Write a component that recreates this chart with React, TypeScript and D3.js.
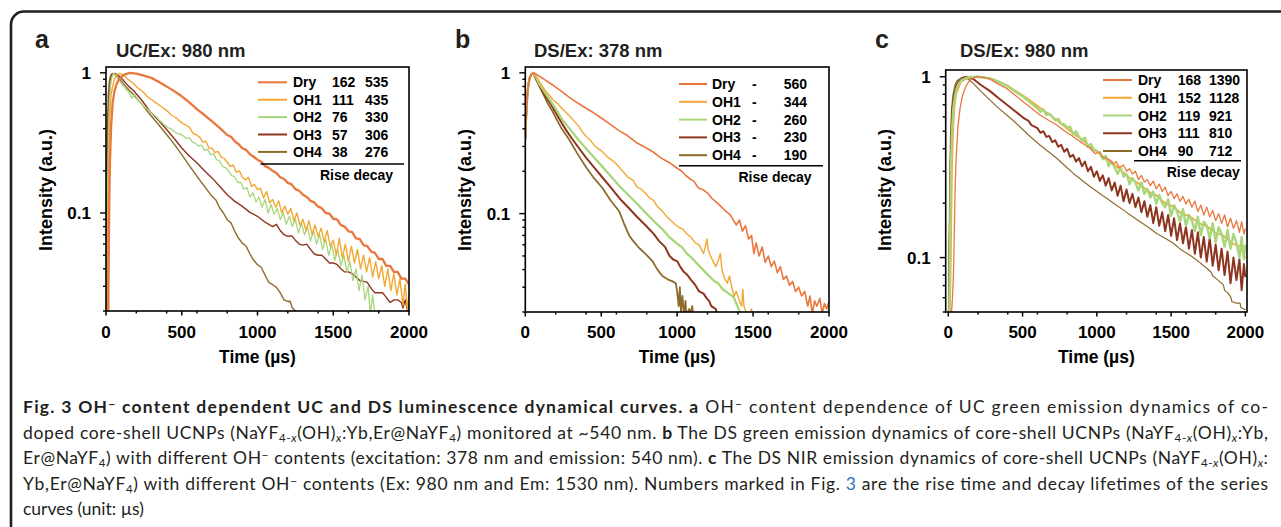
import * as d3 from "d3";

type Pt = [number, number];

const names = ["Dry", "OH1", "OH2", "OH3", "OH4"];
const palette = ["#E9773D", "#F4A733", "#A7D67B", "#8E3520", "#8D6B2B"];

const aRise = ["162", "111", "76", "57", "38"];
const aDecay = ["535", "435", "330", "306", "276"];
const bRise = ["-", "-", "-", "-", "-"];
const bDecay = ["560", "344", "260", "230", "190"];
const cRise = ["168", "152", "119", "111", "90"];
const cDecay = ["1390", "1128", "921", "810", "712"];

// panel a: UC, Ex 980 nm  [time us, intensity]
const aDry: Pt[] = [[15,0.019],[18,0.05],[22,0.13],[26,0.23],[34,0.42],[44,0.61],[56,0.74],[70,0.83],[85,0.9],[103,0.94],[125,0.975],[158,1],[200,0.985],[250,0.955],[300,0.92],[350,0.86],[400,0.8],[450,0.74],[500,0.68],[550,0.615],[600,0.55],[650,0.5],[700,0.45],[750,0.405],[800,0.36],[825,0.35],[850,0.325],[875,0.31],[900,0.29],[925,0.282],[950,0.262],[975,0.252],[1000,0.24],[1025,0.232],[1050,0.216],[1075,0.21],[1100,0.2],[1125,0.193],[1150,0.18],[1175,0.175],[1200,0.164],[1225,0.16],[1250,0.148],[1275,0.144],[1300,0.135],[1325,0.13],[1350,0.122],[1375,0.119],[1400,0.111],[1425,0.108],[1450,0.1],[1475,0.099],[1500,0.091],[1525,0.09],[1550,0.082],[1575,0.08],[1600,0.074],[1625,0.073],[1650,0.066],[1675,0.065],[1700,0.059],[1725,0.058],[1750,0.053],[1775,0.052],[1800,0.047],[1825,0.047],[1850,0.042],[1875,0.042],[1900,0.038],[1925,0.038],[1950,0.034],[1975,0.034],[2000,0.031]];
const aOH1: Pt[] = [[8,0.019],[12,0.06],[15,0.13],[20,0.3],[26,0.52],[34,0.7],[44,0.8],[55,0.9],[66,0.946],[80,0.98],[90,0.99],[114,0.967],[145,0.9],[180,0.84],[210,0.78],[246,0.73],[270,0.68],[299,0.645],[330,0.61],[360,0.58],[400,0.54],[430,0.5],[460,0.48],[500,0.44],[525,0.425],[550,0.41],[575,0.37],[600,0.36],[620,0.345],[640,0.32],[660,0.325],[680,0.29],[700,0.29],[720,0.27],[740,0.275],[760,0.25],[780,0.245],[800,0.23],[820,0.215],[840,0.22],[860,0.195],[880,0.2],[900,0.18],[920,0.172],[940,0.18],[960,0.155],[980,0.16],[1000,0.147],[1020,0.15],[1040,0.128],[1060,0.142],[1080,0.118],[1100,0.125],[1120,0.11],[1140,0.122],[1160,0.1],[1180,0.112],[1200,0.098],[1220,0.108],[1240,0.088],[1260,0.1],[1280,0.082],[1300,0.09],[1320,0.075],[1340,0.088],[1360,0.07],[1380,0.082],[1400,0.068],[1420,0.078],[1440,0.062],[1460,0.075],[1480,0.058],[1500,0.064],[1520,0.05],[1540,0.066],[1560,0.048],[1580,0.06],[1600,0.045],[1620,0.058],[1640,0.044],[1660,0.055],[1680,0.04],[1700,0.05],[1720,0.038],[1740,0.048],[1760,0.035],[1780,0.045],[1800,0.034],[1820,0.042],[1840,0.03],[1860,0.04],[1880,0.028],[1900,0.037],[1920,0.026],[1940,0.034],[1960,0.022],[1975,0.031],[1990,0.02],[2000,0.027]];
const aOH2: Pt[] = [[4,0.019],[8,0.07],[11,0.17],[16,0.38],[22,0.61],[28,0.78],[35,0.9],[48,0.99],[60,0.97],[92,0.87],[125,0.78],[150,0.73],[170,0.66],[190,0.7],[210,0.64],[230,0.61],[250,0.57],[270,0.555],[290,0.53],[310,0.5],[330,0.49],[350,0.46],[370,0.44],[390,0.42],[410,0.405],[430,0.4],[450,0.38],[470,0.37],[490,0.365],[510,0.355],[530,0.34],[550,0.345],[570,0.32],[590,0.315],[610,0.3],[630,0.305],[650,0.28],[670,0.285],[690,0.26],[710,0.265],[730,0.24],[750,0.235],[770,0.215],[790,0.21],[810,0.2],[830,0.185],[850,0.18],[870,0.165],[890,0.165],[910,0.148],[930,0.152],[950,0.13],[970,0.14],[990,0.12],[1010,0.13],[1030,0.11],[1050,0.125],[1070,0.1],[1090,0.115],[1110,0.098],[1130,0.108],[1150,0.09],[1170,0.1],[1190,0.083],[1210,0.095],[1230,0.08],[1250,0.09],[1270,0.072],[1290,0.085],[1310,0.07],[1330,0.08],[1350,0.063],[1370,0.075],[1390,0.06],[1410,0.07],[1430,0.055],[1450,0.065],[1470,0.05],[1490,0.06],[1510,0.046],[1530,0.055],[1550,0.042],[1570,0.05],[1590,0.038],[1610,0.045],[1630,0.033],[1650,0.04],[1670,0.028],[1690,0.036],[1710,0.024],[1730,0.03],[1745,0.019],[1760,0.026],[1775,0.019]];
const aOH3: Pt[] = [[2,0.019],[5,0.06],[9,0.23],[14,0.45],[20,0.68],[27,0.83],[33,0.92],[42,0.975],[53,0.99],[70,0.975],[92,0.94],[120,0.87],[150,0.8],[180,0.75],[235,0.64],[290,0.53],[345,0.46],[400,0.394],[450,0.34],[500,0.291],[550,0.255],[600,0.228],[650,0.2],[700,0.178],[750,0.155],[800,0.135],[850,0.121],[900,0.1115],[950,0.101],[1000,0.0947],[1050,0.086],[1100,0.08],[1125,0.083],[1150,0.075],[1175,0.07],[1200,0.068],[1225,0.069],[1250,0.064],[1275,0.06],[1300,0.059],[1325,0.06],[1350,0.055],[1375,0.051],[1400,0.05],[1425,0.05],[1450,0.047],[1475,0.044],[1500,0.044],[1525,0.043],[1550,0.04],[1575,0.038],[1600,0.038],[1625,0.037],[1650,0.035],[1675,0.033],[1700,0.0325],[1725,0.032],[1750,0.029],[1775,0.027],[1800,0.027],[1825,0.027],[1850,0.025],[1875,0.023],[1900,0.024],[1925,0.024],[1950,0.023],[1960,0.021],[1975,0.024],[1990,0.02],[2000,0.0228]];
const aOH4: Pt[] = [[0,0.019],[3,0.06],[7,0.23],[11,0.45],[15,0.68],[20,0.82],[26,0.92],[35,0.975],[44,0.99],[60,0.97],[92,0.896],[135,0.79],[180,0.7],[235,0.6],[290,0.504],[345,0.43],[400,0.363],[450,0.31],[500,0.261],[550,0.218],[600,0.183],[650,0.155],[700,0.1315],[725,0.124],[750,0.109],[775,0.1],[800,0.0896],[825,0.085],[850,0.074],[875,0.066],[900,0.061],[925,0.058],[950,0.051],[975,0.046],[1000,0.0428],[1025,0.041],[1050,0.036],[1075,0.032],[1100,0.0308],[1125,0.0295],[1150,0.027],[1175,0.024],[1200,0.0234],[1215,0.0235],[1230,0.021],[1258,0.0197],[1275,0.019]];

// panel b: DS, Ex 378 nm
const bDry: Pt[] = [[0,0.34],[6,0.5],[13,0.68],[20,0.82],[29,0.92],[40,0.975],[57,1],[90,0.95],[130,0.89],[180,0.82],[230,0.75],[290,0.67],[340,0.615],[400,0.56],[450,0.52],[510,0.47],[560,0.43],[620,0.387],[670,0.36],[730,0.32],[780,0.3],[840,0.275],[890,0.25],[950,0.23],[1000,0.21],[1030,0.2],[1060,0.185],[1090,0.175],[1110,0.17],[1140,0.152],[1170,0.148],[1200,0.14],[1230,0.128],[1260,0.12],[1290,0.112],[1320,0.104],[1350,0.098],[1370,0.09],[1390,0.083],[1410,0.09],[1430,0.075],[1450,0.082],[1470,0.066],[1490,0.07],[1505,0.052],[1520,0.062],[1540,0.05],[1560,0.058],[1580,0.045],[1600,0.05],[1620,0.042],[1640,0.046],[1660,0.038],[1680,0.042],[1700,0.034],[1720,0.036],[1740,0.031],[1760,0.033],[1780,0.028],[1800,0.03],[1820,0.026],[1840,0.028],[1860,0.022],[1875,0.026],[1890,0.0195],[1905,0.024],[1920,0.022],[1940,0.025],[1955,0.0195],[1970,0.023],[1985,0.021],[2000,0.024]];
const bOH1: Pt[] = [[0,0.34],[6,0.5],[13,0.68],[20,0.82],[29,0.92],[40,0.975],[51,1],[75,0.93],[100,0.84],[130,0.75],[160,0.69],[185,0.64],[215,0.6],[240,0.56],[270,0.52],[295,0.49],[325,0.45],[350,0.42],[380,0.375],[405,0.35],[430,0.33],[460,0.3],[490,0.285],[515,0.27],[545,0.25],[570,0.24],[600,0.225],[624,0.21],[650,0.195],[680,0.18],[710,0.172],[735,0.155],[760,0.15],[790,0.14],[815,0.13],[844,0.124],[870,0.112],[900,0.105],[925,0.097],[955,0.09],[980,0.085],[1010,0.08],[1035,0.078],[1064,0.072],[1090,0.068],[1120,0.062],[1145,0.06],[1174,0.052],[1185,0.058],[1196,0.066],[1205,0.055],[1220,0.05],[1240,0.045],[1255,0.042],[1270,0.046],[1284,0.052],[1295,0.04],[1310,0.035],[1330,0.032],[1345,0.036],[1360,0.03],[1375,0.026],[1390,0.028],[1410,0.024],[1425,0.022],[1432,0.029],[1440,0.022],[1455,0.02],[1470,0.019],[1490,0.021],[1500,0.019]];
const bOH2: Pt[] = [[0,0.34],[6,0.5],[13,0.68],[20,0.82],[29,0.92],[40,0.975],[51,1],[70,0.93],[90,0.84],[110,0.78],[130,0.72],[155,0.66],[180,0.6],[210,0.535],[240,0.47],[270,0.43],[300,0.39],[350,0.335],[400,0.29],[450,0.252],[500,0.22],[560,0.186],[624,0.155],[680,0.135],[735,0.118],[790,0.102],[844,0.089],[900,0.078],[950,0.068],[1000,0.061],[1030,0.058],[1064,0.052],[1100,0.048],[1150,0.042],[1200,0.037],[1240,0.0335],[1270,0.032],[1300,0.029],[1340,0.027],[1372,0.0255],[1390,0.023],[1405,0.021],[1416,0.0195]];
const bOH3: Pt[] = [[0,0.34],[6,0.5],[13,0.68],[20,0.82],[29,0.92],[40,0.975],[51,1],[70,0.91],[90,0.82],[110,0.75],[130,0.69],[155,0.63],[180,0.57],[210,0.5],[240,0.44],[270,0.39],[300,0.35],[350,0.295],[400,0.25],[450,0.215],[500,0.185],[560,0.155],[624,0.127],[680,0.11],[735,0.095],[790,0.083],[844,0.072],[880,0.064],[920,0.058],[950,0.05],[976,0.047],[1000,0.046],[1020,0.042],[1040,0.039],[1064,0.037],[1090,0.034],[1120,0.031],[1145,0.028],[1174,0.027],[1195,0.025],[1210,0.024],[1225,0.022],[1240,0.0215],[1255,0.021],[1262,0.0195]];
const bOH4: Pt[] = [[0,0.34],[6,0.5],[13,0.68],[20,0.82],[29,0.92],[40,0.975],[51,1],[70,0.9],[90,0.82],[120,0.7],[150,0.6],[178,0.535],[210,0.46],[240,0.4],[288,0.337],[340,0.27],[398,0.215],[450,0.18],[508,0.152],[560,0.125],[618,0.104],[650,0.085],[684,0.07],[710,0.064],[750,0.057],[790,0.052],[837,0.046],[870,0.04],[903,0.036],[940,0.034],[970,0.033],[991,0.032],[1000,0.028],[1010,0.022],[1018,0.03],[1025,0.02],[1035,0.026],[1045,0.019],[1055,0.024],[1060,0.019],[1080,0.021],[1085,0.019],[1100,0.022],[1105,0.019]];

// panel c: DS, Ex 980 nm
const cDry: Pt[] = [[22,0.05],[28,0.06],[34,0.077],[40,0.13],[45,0.22],[50,0.31],[56,0.4],[65,0.53],[79,0.668],[95,0.78],[112,0.862],[130,0.92],[146,0.958],[170,0.985],[191,1],[230,0.995],[281,0.971],[330,0.92],[393,0.862],[450,0.79],[505,0.728],[560,0.67],[617,0.614],[675,0.575],[730,0.541],[785,0.5],[842,0.466],[900,0.43],[954,0.402],[990,0.375],[1020,0.385],[1040,0.36],[1066,0.354],[1090,0.345],[1110,0.33],[1130,0.34],[1150,0.315],[1179,0.325],[1200,0.3],[1220,0.31],[1240,0.29],[1260,0.3],[1280,0.27],[1300,0.285],[1320,0.262],[1340,0.27],[1360,0.25],[1380,0.265],[1400,0.24],[1420,0.255],[1440,0.232],[1460,0.245],[1480,0.22],[1500,0.232],[1520,0.212],[1540,0.225],[1560,0.205],[1580,0.218],[1600,0.198],[1620,0.21],[1640,0.19],[1660,0.205],[1680,0.18],[1700,0.195],[1720,0.172],[1740,0.19],[1760,0.168],[1780,0.182],[1800,0.16],[1820,0.175],[1840,0.155],[1860,0.172],[1880,0.148],[1900,0.165],[1920,0.145],[1940,0.16],[1960,0.138],[1975,0.158],[1990,0.135],[2000,0.145]];
const cOH1: Pt[] = [[11,0.05],[18,0.12],[25,0.325],[32,0.5],[40,0.668],[52,0.8],[67,0.862],[85,0.94],[101,0.958],[146,0.996],[202,1],[281,0.979],[393,0.9],[505,0.785],[617,0.674],[730,0.576],[842,0.486],[900,0.45],[954,0.41],[1010,0.38],[1066,0.346],[1120,0.325],[1179,0.296],[1235,0.27],[1291,0.254],[1347,0.232],[1403,0.22],[1460,0.2],[1515,0.191],[1570,0.175],[1628,0.169],[1685,0.155],[1740,0.149],[1795,0.138],[1852,0.132],[1910,0.12],[1964,0.115],[1985,0.105],[2000,0.099]];
const cOH2: Pt[] = [[7,0.05],[12,0.12],[18,0.325],[25,0.5],[34,0.668],[45,0.78],[56,0.862],[72,0.92],[90,0.958],[135,0.996],[191,1],[240,0.99],[281,0.979],[340,0.94],[393,0.892],[450,0.83],[505,0.775],[560,0.71],[600,0.67],[620,0.64],[640,0.66],[660,0.615],[680,0.625],[700,0.6],[720,0.575],[740,0.585],[760,0.55],[780,0.545],[800,0.525],[820,0.53],[840,0.48],[860,0.5],[880,0.465],[900,0.445],[920,0.46],[940,0.41],[960,0.425],[980,0.395],[1000,0.39],[1020,0.375],[1040,0.35],[1060,0.365],[1080,0.32],[1100,0.34],[1120,0.315],[1140,0.29],[1160,0.315],[1180,0.28],[1200,0.29],[1220,0.255],[1240,0.275],[1260,0.26],[1280,0.235],[1300,0.26],[1320,0.225],[1340,0.24],[1360,0.215],[1380,0.232],[1400,0.198],[1420,0.222],[1440,0.2],[1460,0.19],[1480,0.21],[1500,0.17],[1520,0.195],[1540,0.18],[1560,0.158],[1580,0.185],[1600,0.15],[1620,0.172],[1640,0.16],[1660,0.14],[1680,0.168],[1700,0.133],[1720,0.158],[1740,0.15],[1760,0.128],[1780,0.155],[1800,0.122],[1820,0.147],[1840,0.135],[1860,0.115],[1880,0.142],[1900,0.112],[1920,0.135],[1940,0.12],[1960,0.1],[1975,0.13],[1990,0.098],[2000,0.118]];
const cOH3: Pt[] = [[4,0.05],[9,0.12],[16,0.325],[22,0.5],[29,0.668],[40,0.8],[52,0.88],[65,0.93],[79,0.958],[100,0.985],[123,1],[145,0.99],[168,0.971],[220,0.9],[281,0.833],[335,0.765],[393,0.703],[450,0.645],[505,0.593],[540,0.57],[560,0.54],[580,0.53],[600,0.52],[620,0.49],[640,0.5],[660,0.465],[680,0.47],[700,0.435],[720,0.445],[740,0.41],[760,0.42],[780,0.385],[800,0.4],[820,0.36],[840,0.37],[860,0.34],[880,0.355],[900,0.32],[920,0.34],[940,0.3],[960,0.318],[980,0.28],[1000,0.3],[1020,0.265],[1040,0.285],[1060,0.25],[1080,0.275],[1100,0.235],[1120,0.26],[1140,0.22],[1160,0.25],[1180,0.205],[1200,0.238],[1220,0.2],[1240,0.225],[1260,0.19],[1280,0.215],[1300,0.178],[1320,0.205],[1340,0.168],[1360,0.195],[1380,0.155],[1400,0.19],[1420,0.15],[1440,0.178],[1460,0.14],[1480,0.172],[1500,0.132],[1520,0.165],[1540,0.125],[1560,0.155],[1580,0.12],[1600,0.148],[1620,0.112],[1640,0.142],[1660,0.105],[1680,0.138],[1700,0.1],[1720,0.13],[1740,0.095],[1760,0.128],[1780,0.09],[1800,0.118],[1820,0.085],[1840,0.112],[1860,0.08],[1880,0.108],[1900,0.072],[1920,0.1],[1940,0.075],[1960,0.098],[1975,0.066],[1990,0.092],[2000,0.078]];
const cOH4: Pt[] = [[2,0.05],[6,0.12],[11,0.325],[16,0.5],[22,0.668],[32,0.8],[45,0.9],[58,0.95],[74,0.97],[90,0.99],[112,1],[140,0.96],[168,0.919],[220,0.83],[281,0.743],[335,0.675],[393,0.614],[450,0.56],[505,0.508],[560,0.46],[617,0.419],[675,0.385],[730,0.354],[785,0.322],[842,0.292],[900,0.268],[954,0.247],[1010,0.229],[1066,0.213],[1120,0.198],[1179,0.183],[1235,0.17],[1291,0.158],[1347,0.147],[1403,0.136],[1460,0.128],[1515,0.12],[1570,0.11],[1628,0.103],[1685,0.095],[1740,0.0873],[1770,0.083],[1780,0.079],[1800,0.077],[1852,0.0706],[1860,0.066],[1880,0.064],[1900,0.0609],[1910,0.057],[1940,0.056],[1964,0.056],[1970,0.053],[1990,0.052],[2000,0.0514]];

const FONT = "'Liberation Sans', Arial, Helvetica, sans-serif";
const INK = "#231F20";

interface Legend {
  lineX: [number, number];
  labelX: number;
  riseX: number;
  decayX: number;
  decayAnchor: "start" | "end";
  row0: number;
  step: number;
  ruleY: number;
  ruleX: [number, number];
  rdX: number;
  rdY: number;
}

interface PanelProps {
  id: string;
  letter: string;
  letterX: number;
  title: string;
  titleX: number;
  left: number;
  right: number;
  top: number;
  bottom: number;
  xDomain: [number, number];
  yDomain: [number, number];
  series: Pt[][];
  order: number[];
  widths: number[];
  rise: string[];
  decay: string[];
  legend: Legend;
  yLabelX: number;
}

function Panel(p: PanelProps) {
  const x = d3.scaleLinear().domain(p.xDomain).range([p.left, p.right]);
  const y = d3.scaleLog().domain(p.yDomain).range([p.bottom, p.top]);
  const line = d3
    .line<Pt>()
    .x((d) => x(d[0]))
    .y((d) => y(d[1]));

  const xMajor = x.ticks(4).filter((t) => t >= 0);
  const xMinor = x.ticks(8).filter((t) => t >= 0 && !xMajor.includes(t));
  const yAll = y.ticks().filter((t) => t >= p.yDomain[0] - 1e-9 && t <= p.yDomain[1]);
  const isMajor = (t: number) => Math.abs(Math.log10(t) - Math.round(Math.log10(t))) < 1e-6;
  const lg = p.legend;
  const midX = (p.left + p.right) / 2;

  return (
    <g>
      <defs>
        <clipPath id={`clip-${p.id}`}>
          <rect x={p.left} y={p.top} width={p.right - p.left} height={p.bottom - p.top} />
        </clipPath>
      </defs>
      <text x={p.letterX} y={48} fontSize={25} fontWeight="bold" fill={INK}>{p.letter}</text>
      <text x={p.titleX} y={57} fontSize={18.5} fontWeight="bold" fill={INK}>{p.title}</text>

      {/* curves */}
      <g clipPath={`url(#clip-${p.id})`}>
        {p.order.map((i) => (
          <path
            key={i}
            d={line(p.series[i]) ?? ""}
            fill="none"
            stroke={palette[i]}
            strokeWidth={p.widths[i]}
            strokeLinejoin="round"
          />
        ))}
      </g>

      {/* frame */}
      <rect x={p.left} y={p.top} width={p.right - p.left} height={p.bottom - p.top} fill="none" stroke="#000" strokeWidth={1.6} />

      {/* x axis */}
      {xMajor.map((t) => (
        <g key={`xm${t}`}>
          <line x1={x(t)} x2={x(t)} y1={p.bottom} y2={p.bottom + 4.5} stroke="#000" strokeWidth={1.5} />
          <text x={x(t)} y={338} textAnchor="middle" fontSize={17} fontWeight="bold" fill="#000">{t}</text>
        </g>
      ))}
      {xMinor.map((t) => (
        <line key={`xn${t}`} x1={x(t)} x2={x(t)} y1={p.bottom} y2={p.bottom + 2.5} stroke="#000" strokeWidth={1.5} />
      ))}
      <text x={midX} y={363} textAnchor="middle" fontSize={17.5} fontWeight="bold" fill="#000">Time (µs)</text>

      {/* y axis */}
      {yAll.map((t) => {
        const major = isMajor(t);
        return (
          <g key={`y${t}`}>
            <line x1={p.left - (major ? 6 : 3)} x2={p.left} y1={y(t)} y2={y(t)} stroke="#000" strokeWidth={1.4} />
            {major && (
              <text x={p.left - 15} y={y(t)} dy="0.36em" textAnchor="end" fontSize={17} fontWeight="bold" fill="#000">
                {t >= 1 ? "1" : "0.1"}
              </text>
            )}
          </g>
        );
      })}
      <text
        transform={`translate(${p.yLabelX},190) rotate(-90)`}
        textAnchor="middle"
        dy="0.36em"
        fontSize={18}
        fontWeight="bold"
        fill="#000"
      >
        Intensity (a.u.)
      </text>

      {/* legend */}
      {names.map((n, i) => {
        const cy = lg.row0 + i * lg.step;
        return (
          <g key={n} fontSize={14} fontWeight="bold" fill="#000">
            <line x1={lg.lineX[0]} x2={lg.lineX[1]} y1={cy} y2={cy} stroke={palette[i]} strokeWidth={2} />
            <text x={lg.labelX} y={cy + 5}>{n}</text>
            <text x={lg.riseX} y={cy + 5}>{p.rise[i]}</text>
            <text x={lg.decayX} y={cy + 5} textAnchor={lg.decayAnchor}>{p.decay[i]}</text>
          </g>
        );
      })}
      <line x1={lg.ruleX[0]} x2={lg.ruleX[1]} y1={lg.ruleY} y2={lg.ruleY} stroke="#000" strokeWidth={1.5} />
      <text x={lg.rdX} y={lg.rdY} fontSize={14} fontWeight="bold" fill="#000">Rise decay</text>
    </g>
  );
}

const Sub = ({ children }: { children: any }) => (
  <tspan baselineShift="-3" fontSize={11.5}>{children}</tspan>
);
const Sup = ({ children }: { children: any }) => (
  <tspan baselineShift="5" fontSize={12}>{children}</tspan>
);
const Formula = ({ tail }: { tail: string }) => (
  <>
    NaYF<Sub>4-<tspan fontStyle="italic">x</tspan></Sub>(OH)<Sub><tspan fontStyle="italic">x</tspan></Sub>{tail}
  </>
);

export default function App() {
  return (
    <svg
      width={1281}
      height={527}
      style={{ position: "absolute", left: 0, top: 0, background: "#fff" }}
      fontFamily={FONT}
    >
      <rect x={0} y={0} width={1281} height={527} fill="#fff" />
      <rect x={11} y={11.5} width={1320} height={600} rx={13} fill="none" stroke={INK} strokeWidth={2.6} />

      <Panel
        id="a"
        letter="a"
        letterX={35}
        title="UC/Ex: 980 nm"
        titleX={116}
        left={106}
        right={409}
        top={67}
        bottom={311}
        xDomain={[0, 2000]}
        yDomain={[0.02, 1.1]}
        series={[aDry, aOH1, aOH2, aOH3, aOH4]}
        order={[4, 3, 2, 1, 0]}
        widths={[2.3, 1.4, 1.3, 1.4, 1.4]}
        rise={aRise}
        decay={aDecay}
        yLabelX={46}
        legend={{ lineX: [258, 287], labelX: 293, riseX: 332, decayX: 365, decayAnchor: "start", row0: 82.3, step: 17.4, ruleY: 164, ruleX: [260.5, 404], rdX: 320, rdY: 180 }}
      />
      <Panel
        id="b"
        letter="b"
        letterX={455}
        title="DS/Ex: 378 nm"
        titleX={534}
        left={525.3}
        right={829}
        top={67}
        bottom={312}
        xDomain={[0, 2000]}
        yDomain={[0.02, 1.1]}
        series={[bDry, bOH1, bOH2, bOH3, bOH4]}
        order={[4, 3, 2, 1, 0]}
        widths={[1.6, 1.4, 2.3, 2.0, 1.8]}
        rise={bRise}
        decay={bDecay}
        yLabelX={465}
        legend={{ lineX: [679, 707], labelX: 712, riseX: 752, decayX: 807, decayAnchor: "end", row0: 84, step: 17.8, ruleY: 165.7, ruleX: [679, 823], rdX: 738.5, rdY: 181.5 }}
      />
      <Panel
        id="c"
        letter="c"
        letterX={875}
        title="DS/Ex: 980 nm"
        titleX={960}
        left={945.7}
        right={1247}
        top={70}
        bottom={312}
        xDomain={[-17.5, 2011]}
        yDomain={[0.05, 1.09]}
        series={[cDry, cOH1, cOH2, cOH3, cOH4]}
        order={[4, 3, 1, 2, 0]}
        widths={[1.3, 1.8, 2.4, 2.0, 1.2]}
        rise={cRise}
        decay={cDecay}
        yLabelX={885}
        legend={{ lineX: [1103, 1132], labelX: 1138, riseX: 1177.7, decayX: 1209, decayAnchor: "start", row0: 80, step: 17.75, ruleY: 160.7, ruleX: [1134, 1241], rdX: 1166.7, rdY: 176.7 }}
      />

      <g fontFamily="Lato, 'Noto Sans', sans-serif" fontSize={17.5} fill={INK}>
        <text x={23} y={413} textLength={1245} lengthAdjust="spacing">
          <tspan fontWeight="bold">Fig. 3 OH<Sup>−</Sup> content dependent UC and DS luminescence dynamical curves.</tspan>{" "}
          <tspan fontWeight="bold">a</tspan> OH<Sup>−</Sup> content dependence of UC green emission dynamics of co-
        </text>
        <text x={23} y={438.5} textLength={1245} lengthAdjust="spacing">
          doped core-shell UCNPs (<Formula tail=":Yb,Er@NaYF" /><Sub>4</Sub>) monitored at ~540 nm.{" "}
          <tspan fontWeight="bold">b</tspan> The DS green emission dynamics of core-shell UCNPs (<Formula tail=":Yb," />
        </text>
        <text x={23} y={464} textLength={1245} lengthAdjust="spacing">
          Er@NaYF<Sub>4</Sub>) with different OH<Sup>−</Sup> contents (excitation: 378 nm and emission: 540 nm).{" "}
          <tspan fontWeight="bold">c</tspan> The DS NIR emission dynamics of core-shell UCNPs (<Formula tail=":" />
        </text>
        <text x={23} y={489.5} textLength={1245} lengthAdjust="spacing">
          Yb,Er@NaYF<Sub>4</Sub>) with different OH<Sup>−</Sup> contents (Ex: 980 nm and Em: 1530 nm). Numbers marked in Fig.{" "}
          <tspan fill="#2F6FB6">3</tspan> are the rise time and decay lifetimes of the series
        </text>
        <text x={23} y={515}>curves (unit: µs)</text>
      </g>
    </svg>
  );
}
